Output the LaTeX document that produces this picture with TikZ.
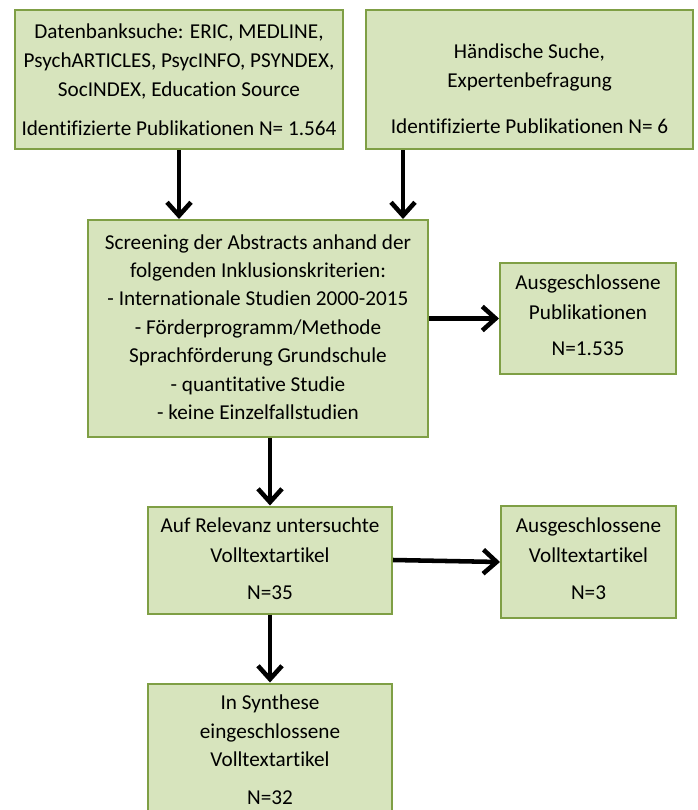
\documentclass[tikz,border=0pt]{standalone}
\usepackage{fontspec}
\setmainfont{Carlito}[Ligatures={NoCommon}]
\usetikzlibrary{arrows.meta,calc}
\definecolor{boxfill}{HTML}{D7E4BD}
\definecolor{boxline}{HTML}{7F9F45}
\tikzset{
  box/.style={draw=boxline, fill=boxfill, line width=1.5pt, inner sep=0pt},
  txt/.style={align=center, inner sep=0pt, font=\fontsize{15.9}{21.5}\selectfont},
  arr/.style={line width=3.4pt, -{Straight Barb[length=10pt,width=18pt]}}
}
\begin{document}
\begin{tikzpicture}[x=0.75pt,y=-0.75pt]
\useasboundingbox (0,0) rectangle (697,810);
% boxes
\node[box, minimum width=246pt, minimum height=104.25pt] (b1) at (179,79.5) {};
\node[box, minimum width=245.25pt, minimum height=104.25pt] (b2) at (529.5,79.5) {};
\node[box, minimum width=255pt, minimum height=162.75pt] (scr) at (258,328.5) {};
\node[box, minimum width=132pt, minimum height=83.25pt] (pub) at (588,318.5) {};
\node[box, minimum width=183pt, minimum height=80.25pt] (rel) at (270,560) {};
\node[box, minimum width=131.25pt, minimum height=84pt] (vt) at (588.5,562) {};
\node[box, minimum width=183pt, minimum height=99pt] (fin) at (270,749.5) {};
% texts
\node[txt] (t1) at (179,80) {Datenbanksuche: ERIC, MEDLINE,\\PsychARTICLES, PsycINFO, PSYNDEX,\\SocINDEX, Education Source\\[8pt]Identifizierte Publikationen N= 1.564};
\node[txt] (t2) at (529.5,89) {Händische Suche,\\Expertenbefragung\\[13.5pt]Identifizierte Publikationen N= 6};
\node[txt, font=\fontsize{15.9}{21.3}\selectfont] (t3) at (258,327) {Screening der Abstracts anhand der\\folgenden Inklusionskriterien:\\- Internationale Studien 2000-2015\\- Förderprogramm/Methode\\ Sprachförderung Grundschule\\- quantitative Studie\\- keine Einzelfallstudien};
\node[txt, font=\fontsize{15.9}{22.5}\selectfont] (t4) at (588,315) {Ausgeschlossene\\Publikationen\\[4.5pt]N=1.535};
\node[txt, font=\fontsize{15.9}{22.5}\selectfont] (t5) at (270,559) {Auf Relevanz untersuchte\\Volltextartikel\\[5pt]N=35};
\node[txt, font=\fontsize{15.9}{22.5}\selectfont] (t6) at (588.5,559) {Ausgeschlossene\\Volltextartikel\\[5pt]N=3};
\node[txt, font=\fontsize{15.9}{21.4}\selectfont] (t7) at (270,750) {In Synthese\\eingeschlossene\\Volltextartikel\\[7pt]N=32};
% arrows
\draw[arr] (b1.south) -- (b1.south |- scr.north);
\coordinate (c2) at ($(b2.south west)+(38,0)$);
\draw[arr] (c2) -- (c2 |- scr.north);
\draw[arr] (scr.east |- pub.west) -- (pub.west);
\draw[arr] (scr.south -| rel.north) -- (rel.north);
\draw[arr] (rel.east) -- (vt.west);
\draw[arr] (rel.south) -- (fin.north);
\end{tikzpicture}
\end{document}
